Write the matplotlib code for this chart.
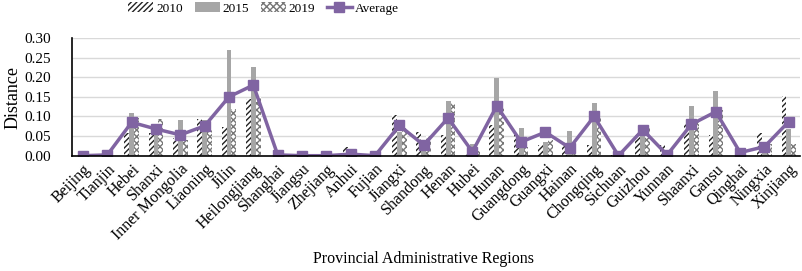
import numpy as np
import matplotlib
matplotlib.use('Agg')
from matplotlib import pyplot as plt

provinces = ['Beijing', 'Tianjin', 'Hebei', 'Shanxi', 'Inner Mongolia', 'Liaoning', 'Jilin',
             'Heilongjiang', 'Shanghai', 'Jiangsu', 'Zhejiang', 'Anhui', 'Fujian', 'Jiangxi',
             'Shandong', 'Henan', 'Hubei', 'Hunan', 'Guangdong', 'Guangxi', 'Hainan', 'Chongqing',
             'Sichuan', 'Guizhou', 'Yunnan', 'Shaanxi', 'Gansu', 'Qinghai', 'Ningxia', 'Xinjiang']

v2010 = [0.0, 0.0, 0.057, 0.057, 0.045, 0.093, 0.074, 0.145, 0.0, 0.0, 0.0, 0.023, 0.0, 0.104,
         0.061, 0.053, 0.005, 0.078, 0.053, 0.027, 0.036, 0.027, 0.003, 0.057, 0.027, 0.083,
         0.053, 0.0, 0.058, 0.152]
v2015 = [0.0, 0.0, 0.110, 0.070, 0.090, 0.090, 0.270, 0.227, 0.0, 0.0, 0.0, 0.0, 0.0, 0.061,
         0.040, 0.139, 0.030, 0.198, 0.070, 0.036, 0.063, 0.135, 0.0, 0.074, 0.0, 0.127,
         0.166, 0.0, 0.020, 0.068]
v2019 = [0.0, 0.0, 0.096, 0.093, 0.040, 0.065, 0.120, 0.150, 0.0, 0.0, 0.0, 0.0, 0.0, 0.070,
         0.050, 0.134, 0.012, 0.130, 0.023, 0.040, 0.010, 0.097, 0.0, 0.074, 0.0, 0.087,
         0.117, 0.0, 0.030, 0.030]
average = [0.0, 0.002, 0.085, 0.068, 0.053, 0.076, 0.150, 0.180, 0.002, 0.0, 0.0, 0.004, 0.0,
           0.077, 0.027, 0.096, 0.010, 0.127, 0.035, 0.060, 0.020, 0.100, 0.0, 0.066, 0.002,
           0.080, 0.112, 0.008, 0.023, 0.087]

plt.rcParams['font.family'] = 'Liberation Serif'
plt.rcParams['hatch.linewidth'] = 1.0

fig = plt.figure(figsize=(8.03, 2.71), dpi=100)
ax = fig.add_axes([0.0897, 0.4255, 0.9063, 0.4345])

x = np.arange(len(provinces))
w = 0.2
b1 = ax.bar(x - w, v2010, w, color='white', edgecolor='#222222', hatch='//////', linewidth=0, label='2010')
b2 = ax.bar(x, v2015, w, color='#a6a6a6', linewidth=0, label='2015')
b3 = ax.bar(x + w, v2019, w, color='white', edgecolor='#777777', hatch='xxxxx', linewidth=0, label='2019')
ln, = ax.plot(x, average, color='#8064a2', lw=2.5, marker='s', ms=7, label='Average')

ax.set_xlim(-0.45, len(provinces) - 0.55)
ax.set_ylim(0, 0.30)
ax.set_yticks(np.arange(0, 0.31, 0.05))
ax.set_yticklabels(['%.2f' % t for t in np.arange(0, 0.31, 0.05)], fontsize=11)
ax.set_xticks(x)
ax.set_xticklabels(provinces, rotation=45, ha='right', rotation_mode='anchor', fontsize=11.5)
ax.tick_params(axis='x', length=0, pad=4)
ax.tick_params(axis='y', length=0, pad=15)
ax.grid(axis='y', color='#d9d9d9', lw=1)
ax.set_axisbelow(True)
for s in ['top', 'right']:
    ax.spines[s].set_visible(False)
ax.spines['left'].set_linewidth(1.2)
ax.spines['bottom'].set_linewidth(1.2)

fig.text(0.016, 0.642, 'Distance', rotation=90, ha='center', va='center', fontsize=13)
fig.text(0.528, 0.03, 'Provincial Administrative Regions', ha='center', fontsize=11.5)
fig.legend([b1, b2, b3, ln], ['2010', '2015', '2019', 'Average'],
           loc='upper center', bbox_to_anchor=(0.328, 1.035), ncol=4, frameon=False,
           fontsize=9.5, handlelength=1.9, columnspacing=0.9, handletextpad=0.2)

fig.savefig('out.png', dpi=100)
